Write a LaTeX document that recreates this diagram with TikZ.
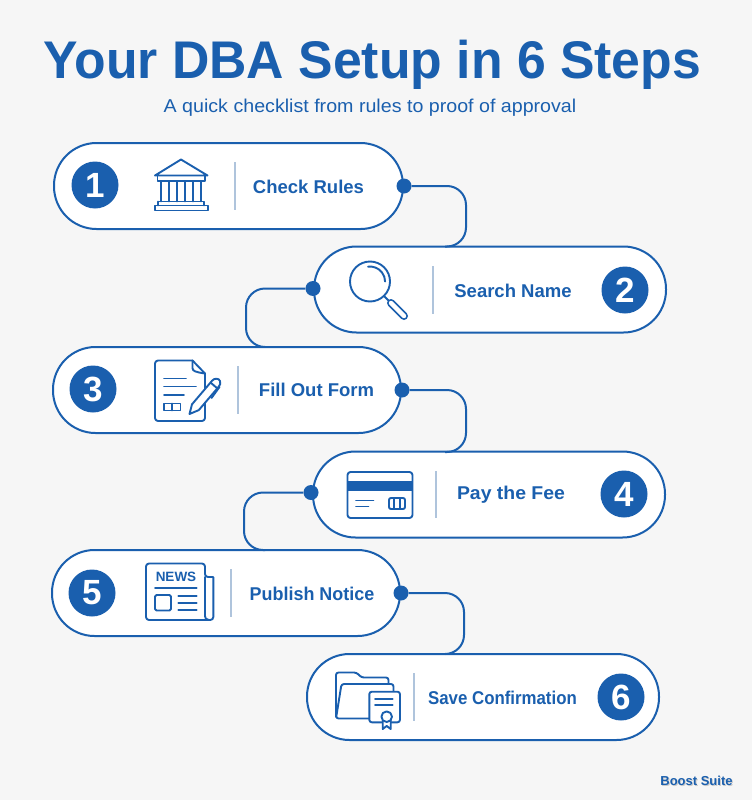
\documentclass[tikz,border=0pt]{standalone}
\usepackage{fontspec}
\setmainfont{Liberation Sans}
\definecolor{bg}{HTML}{F6F6F6}
\definecolor{ink}{HTML}{1A5FAE}
\definecolor{rulec}{HTML}{AFC4DC}
\tikzset{
  x=1pt,y=-1pt,
  pill/.style={draw=ink,line width=2pt,fill=white,rounded corners=42.5pt,inner sep=0pt,minimum height=86pt},
  badge/.style={circle,fill=ink,text=white,inner sep=0pt,minimum size=47pt,font=\fontsize{35}{35}\selectfont\bfseries},
  dot/.style={circle,fill=ink,inner sep=0pt,minimum size=15pt},
  link/.style={draw=ink,line width=2pt,rounded corners=19pt},
  sep/.style={draw=rulec,line width=1.3pt},
  lbl/.style={text=ink,inner sep=0pt,font=\fontsize{18.5}{20}\selectfont\bfseries},
  ico/.style={draw=ink,line width=1.9pt,line join=round,line cap=round},
}
\begin{document}
\begin{tikzpicture}
\useasboundingbox (0,0) rectangle (752,800);
\fill[bg] (0,0) rectangle (752,800);
\node[anchor=base,text=ink,inner sep=0pt,font=\fontsize{53}{56}\selectfont\bfseries] (title) at (372.5,78) {\scalebox{.976}[1]{Your DBA Setup in 6 Steps}};
\node[anchor=base,text=ink,inner sep=0pt,font=\fontsize{18.6}{20}\selectfont] (sub) at (370,112.5) {\scalebox{1.056}[1]{A quick checklist from rules to proof of approval}};
% pills
\node[pill,minimum width=349pt] (p1) at (228.5,186) {};
\node[pill,minimum width=352pt] (p2) at (490,289.5) {};
\node[pill,minimum width=348pt] (p3) at (227,390) {};
\node[pill,minimum width=352pt] (p4) at (489,494.5) {};
\node[pill,minimum width=348pt] (p5) at (226,593) {};
\node[pill,minimum width=352pt] (p6) at (483,697) {};
% dots
\node[dot] (d1) at (p1.east) {};
\node[dot] (d2) at (313,288.5) {};
\node[dot] (d3) at (p3.east) {};
\node[dot] (d4) at (311,492.5) {};
\node[dot] (d5) at (p5.east) {};
% connectors
\coordinate (t2) at (445,246.5);
\coordinate (t3) at (265,347);
\coordinate (t4) at (445,452);
\coordinate (t5) at (265,550);
\coordinate (t6) at (445,654);
\draw[link] (d1) -- (466,186) -- (466,246.5) -- (t2);
\draw[link] (d2) -- (246,288.5) -- (246,347) -- (t3);
\draw[link] (d3) -- (466,390) -- (466,452) -- (t4);
\draw[link] (d4) -- (244,492.5) -- (244,550) -- (t5);
\draw[link] (d5) -- (464,593) -- (464,654) -- (t6);
% badges
\node[badge] (b1) at (95,185) {1};
\node[badge] (b2) at (625,290) {2};
\node[badge] (b3) at (93,389) {3};
\node[badge] (b4) at (624,494) {4};
\node[badge] (b5) at (92,593) {5};
\node[badge] (b6) at (621,697) {6};
% separators
\draw[sep] (235,162) -- (235,210);
\draw[sep] (433,266) -- (433,314);
\draw[sep] (238,366) -- (238,414);
\draw[sep] (436,471) -- (436,518);
\draw[sep] (231,569) -- (231,617);
\draw[sep] (414,673) -- (414,721);
% labels
\node[lbl] (l1) at (308.5,187) {Check Rules};
\node[lbl] (l2) at (513,291) {Search Name};
\node[lbl] (l3) at (316.5,390) {Fill Out Form};
\node[lbl] (l4) at (511,495) {\scalebox{1.05}[1]{Pay the Fee}};
\node[lbl] (l5) at (312,594) {\scalebox{.97}[1]{Publish Notice}};
\node[lbl] (l6) at (502.5,698) {\scalebox{.91}[1]{Save Confirmation}};
% bank
\draw[ico] (181,159.5) -- (155,175.5) -- (207.5,175.5) -- cycle;
\draw[ico] (157.5,175.5) -- (157.5,181) -- (205,181) -- (205,175.5);
\foreach \cx in {165,181,197} \draw[ico] (\cx-4,181) -- (\cx-4,201.5) (\cx+4,181) -- (\cx+4,201.5);
\draw[ico] (158,201.5) -- (204,201.5) -- (204,205.5) (158,201.5) -- (158,205.5);
\draw[ico] (155,205.5) rectangle (208,210.5);
% magnifier
\draw[ico] (370,281.5) circle (20);
\draw[ico] (368,266.7) arc (-98:0:15);
\draw[ico] (384,296) -- (389,301);
\draw[draw=ink,line width=8pt,line cap=round] (391,303) -- (404,316);
\draw[draw=white,line width=4.4pt,line cap=round] (391,303) -- (404,316);
% form
\draw[ico,rounded corners=3pt] (192.5,360.5) -- (155,360.5) -- (155,421) -- (205,421) -- (205,373.5);
\draw[ico] (192.5,360.5) -- (205,373.5);
\draw[ico] (192.5,360.5) -- (192.5,368) .. controls (192.5,371) and (195,372) .. (205,373.5);
\draw[ico] (164,378.5) -- (186,378.5) (164,386.5) -- (196,386.5) (164,395) -- (184,395);
\draw[ico] (164,403.5) rectangle (180.5,410.5) (172.3,403.5) -- (172.3,410.5);
\draw[ico,fill=white] (189.5,414) -- (192,404.3) -- (212.1,380.7) .. controls (214,378) and (219,378) .. (220,381) .. controls (221,383) and (220,385) .. (218.9,386.5) -- (198.8,410.1) -- cycle;
\draw[ico] (210.5,382.5) -- (217.5,388.5) (219.5,387) -- (211.5,398);
% card
\draw[ico,rounded corners=3pt] (347.5,472) rectangle (412.5,518);
\fill[ink] (347.5,480.5) rectangle (412.5,490.5);
\draw[ico] (356,500.5) -- (373.5,500.5) (356,506.5) -- (368.5,506.5);
\draw[ico,rounded corners=2pt] (389,498) rectangle (405,509);
\draw[ico] (394.3,498) -- (394.3,509) (399.7,498) -- (399.7,509);
% news
\draw[ico,rounded corners=3pt] (213.3,577) -- (205,577) -- (205,563.5) -- (146,563.5) -- (146,620) -- (213.3,620) -- (213.3,577);
\draw[ico] (205,577) -- (205,616) .. controls (205,618) and (206,620) .. (209,620);
\node[text=ink,inner sep=0pt,font=\fontsize{13.5}{14}\selectfont\bfseries] (nw) at (176,577) {NEWS};
\draw[ico] (155,587.7) -- (196.7,587.7);
\draw[ico,rounded corners=1.5pt] (155,595) rectangle (171,610.5);
\draw[ico] (178.3,596) -- (196.7,596) (178.3,603) -- (196.7,603) (178.3,610) -- (196.7,610);
% folder
\draw[ico,rounded corners=2.5pt] (336,717) -- (336,672.5) -- (356.5,672.5) -- (361.5,677.5) -- (388.5,677.5) -- (388.5,684);
\draw[ico,rounded corners=2.5pt] (369,718.5) -- (336,718.5) -- (341.5,684) -- (393.5,684) -- (393.5,692);
\draw[ico,fill=white,rounded corners=2.5pt] (369.3,691.7) rectangle (400,722.3);
\draw[ico] (375,699.3) -- (392.7,699.3) (375,705) -- (392.7,705);
\draw[ico,fill=white] (382.7,720) -- (382.7,729) -- (386.7,726) -- (390.7,729) -- (390.7,720);
\draw[ico,fill=white] (386.7,716.7) circle (5.3);
% brand
\node[text=black!35,opacity=.55,inner sep=0pt,font=\fontsize{13}{14}\selectfont\bfseries] (bs) at (697.5,781.5) {Boost Suite};
\node[text=ink,inner sep=0pt,font=\fontsize{13}{14}\selectfont\bfseries] (brand) at (696.5,780.5) {Boost Suite};
\end{tikzpicture}
\end{document}
